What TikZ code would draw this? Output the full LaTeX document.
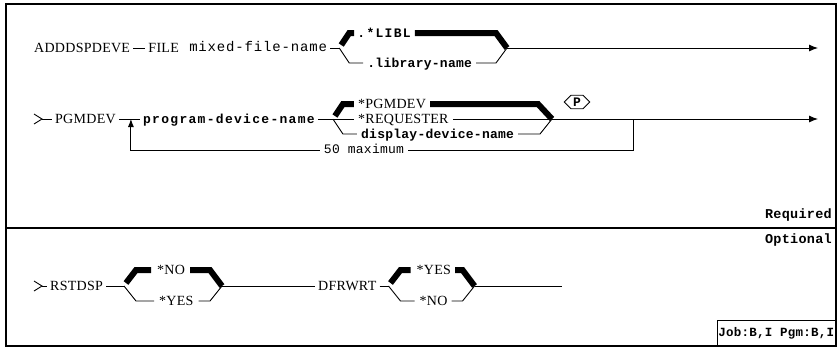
\documentclass[tikz,border=0pt]{standalone}
\usepackage{fontspec}
\newfontfamily\kwfamily[LetterSpace=2]{Liberation Serif}
\newfontfamily\varfamily[LetterSpace=2]{Liberation Mono}
\newfontfamily\widefamily[LetterSpace=10]{Liberation Mono}
\newfontfamily\notefamily[LetterSpace=6]{Liberation Mono}
\usetikzlibrary{arrows.meta,calc,positioning,shapes.symbols}

\tikzset{
	kw/.style={font={\kwfamily\fontsize{14}{14}\selectfont}, inner sep=0pt, text height=9.5pt, text depth=0pt, anchor=west},
	var/.style={font={\varfamily\bfseries\fontsize{13}{13}\selectfont}, inner sep=0pt, text height=8pt, text depth=0pt, anchor=west},
	widevar/.style={var, font={\widefamily\bfseries\fontsize{13}{13}\selectfont}},
	note/.style={font={\notefamily\fontsize{14}{14}\selectfont}, inner sep=0pt, text height=7pt, text depth=0pt, anchor=west},
	rail/.style={line width=0.9pt},
	defrail/.style={line width=6pt},
	link/.style={rail, shorten <=3pt, shorten >=3pt},
	railarrow/.style={rail, -{Latex[length=9pt, width=7pt]}},
}

\begin{document}
\begin{tikzpicture}[x=1pt, y=-1pt]

		\useasboundingbox (0,0) rectangle (839,349);

		\pgfmathsetmacro{\railend}{818}

		% draw frame
		\draw[line width=1.4pt] (6,4) rectangle (836,346);
		\draw[line width=1.4pt] (6,228) -- (836,228);
		\node[var, font={\varfamily\bfseries\fontsize{13.5}{13.5}\selectfont}, anchor=east] (required) at (832,214) {Required};
		\node[var, font={\varfamily\bfseries\fontsize{13.5}{13.5}\selectfont}, anchor=east] (optional) at (832,239) {Optional};
		\node[var, draw, line width=1.4pt, font={\varfamily\bfseries\fontsize{12.5}{12.5}\selectfont}, minimum width=118pt, minimum height=25pt, anchor=south east] (jobtype) at (836,346) {Job:B,I Pgm:B,I};

		% draw first row
		\node[kw] (addcmd) at (34,48) {ADDDSPDEVE};
		\node[kw, right=18pt of addcmd] (filekw) {FILE};
		\node[note, right=10pt of filekw] (filename) {mixed-file-name};
		\coordinate[right=12pt of filename] (libsplit);
		\coordinate (libjoin) at (507,48);
		\coordinate (fileend) at (\railend,48);
		\node[widevar] (libl) at ($(libsplit)+(18,-15)$) {.*LIBL};
		\node[var] (libname) at ($(libsplit)+(28,15)$) {.library-name};

		\draw[link] (addcmd) -- (filekw);
		\draw[rail, shorten <=3pt] (filename) -- (libsplit);
		\draw[defrail] (libsplit) ++(2,-3) -- ++(8,-12) -- ([xshift=-3pt]libl.west); % default
		\draw[rail] (libsplit) -- ++(10,15) -- ([xshift=-4pt]libname.west);
		\draw[defrail] ([xshift=4pt]libl.east) -- ($(libjoin)+(-11,-15)$) -- (libjoin); % default
		\draw[rail] ([xshift=4pt]libname.east) -- ($(libjoin)+(-11,15)$) -- (libjoin);
		\draw[railarrow] (libjoin) -- (fileend);

		% draw second row
		\coordinate (devstart) at (42,119);
		\draw[rail] (devstart) ++(-8,-5) -- (devstart) -- ++(-8,5);
		\node[kw] (pgmdevkw) at (55,119) {PGMDEV};
		\coordinate[right=15pt of pgmdevkw] (loopin);
		\node[widevar, right=12pt of loopin] (devname) {program-device-name};
		\coordinate[right=18pt of devname] (devsplit);
		\node[kw] (pgmdev) at ($(devsplit)+(25,-15)$) {*PGMDEV};
		\node[kw] (requester) at ($(devsplit)+(25,0)$) {*REQUESTER};
		\node[var] (dspname) at ($(devsplit)+(28,15)$) {display-device-name};
		\coordinate (devjoin) at (552,119);
		\coordinate (loopout) at (633,119);
		\coordinate (devend) at (\railend,119);
		\node[signal, signal to=east and west, draw, rail, font={\varfamily\bfseries\fontsize{13}{13}\selectfont}, inner xsep=2pt, inner ysep=2.5pt] (pmark) at (577,102) {P};
		\node[note, anchor=center, font={\varfamily\fontsize{13}{13}\selectfont}, inner xsep=4pt] (maxnote) at (364,150) {50 maximum};

		\draw[rail, shorten >=3pt] (devstart) -- (pgmdevkw);
		\draw[rail, shorten <=3pt] (pgmdevkw) -- (loopin);
		\draw[rail, shorten >=3pt] (loopin) -- (devname);
		\draw[rail, shorten <=3pt] (devname) -- (devsplit);
		\draw[defrail] (devsplit) ++(2,-3) -- ++(8,-12) -- ([xshift=-4pt]pgmdev.west); % default
		\draw[rail, shorten >=4pt] (devsplit) -- (requester);
		\draw[rail] (devsplit) -- ++(10,15) -- ([xshift=-4pt]dspname.west);
		\draw[defrail] ([xshift=4pt]pgmdev.east) -- ($(devjoin)+(-14,-15)$) -- (devjoin); % default
		\draw[rail, shorten <=4pt] (requester) -- (devjoin);
		\draw[rail] ([xshift=4pt]dspname.east) -- ($(devjoin)+(-12,15)$) -- (devjoin);
		\draw[railarrow] (devjoin) -- (devend);
		\draw[rail] (loopout) |- (maxnote);
		\draw[rail, -{Latex[length=8pt, width=6pt]}] (maxnote) -| (loopin);

		% draw optional row
		\coordinate (rststart) at (42,286);
		\draw[rail] (rststart) ++(-8,-5) -- (rststart) -- ++(-8,5);
		\node[kw] (rstdspkw) at (50,286) {RSTDSP};
		\coordinate (rstsplit) at (124,286);
		\node[kw] (rstno) at (157,270) {*NO};
		\node[kw] (rstyes) at (159,301) {*YES};
		\coordinate (rstjoin) at (222,286);
		\node[kw] (dfrwrtkw) at (318,286) {DFRWRT};
		\coordinate[right=12pt of dfrwrtkw] (dfrsplit);
		\node[kw] (dfryes) at ($(dfrsplit)+(28,-16)$) {*YES};
		\node[kw] (dfrno) at ($(dfrsplit)+(31,15)$) {*NO};
		\coordinate (dfrjoin) at ($(dfrsplit)+(86,0)$);
		\coordinate (dfrend) at (562,286);

		\draw[rail, shorten >=3pt] (rststart) -- (rstdspkw);
		\draw[rail, shorten <=3pt] (rstdspkw) -- (rstsplit);
		\draw[defrail] (rstsplit) ++(2,-3) -- ++(10,-13) -- ([xshift=-6pt]rstno.west); % default
		\draw[rail] (rstsplit) -- ++(12,15) -- ([xshift=-5pt]rstyes.west);
		\draw[defrail] ([xshift=5pt]rstno.east) -- ($(rstjoin)+(-12,-16)$) -- (rstjoin); % default
		\draw[rail] ([xshift=5pt]rstyes.east) -- ($(rstjoin)+(-12,15)$) -- (rstjoin);
		\draw[rail, shorten >=3pt] (rstjoin) -- (dfrwrtkw);
		\draw[rail, shorten <=3pt] (dfrwrtkw) -- (dfrsplit);
		\draw[defrail] (dfrsplit) ++(2,-3) -- ++(10,-13) -- ([xshift=-6pt]dfryes.west); % default
		\draw[rail] (dfrsplit) -- ++(12,15) -- ([xshift=-5pt]dfrno.west);
		\draw[defrail] ([xshift=4pt]dfryes.east) -- ($(dfrjoin)+(-12,-16)$) -- (dfrjoin); % default
		\draw[rail] ([xshift=4pt]dfrno.east) -- ($(dfrjoin)+(-12,15)$) -- (dfrjoin);
		\draw[rail] (dfrjoin) -- (dfrend);

\end{tikzpicture}
\end{document}
